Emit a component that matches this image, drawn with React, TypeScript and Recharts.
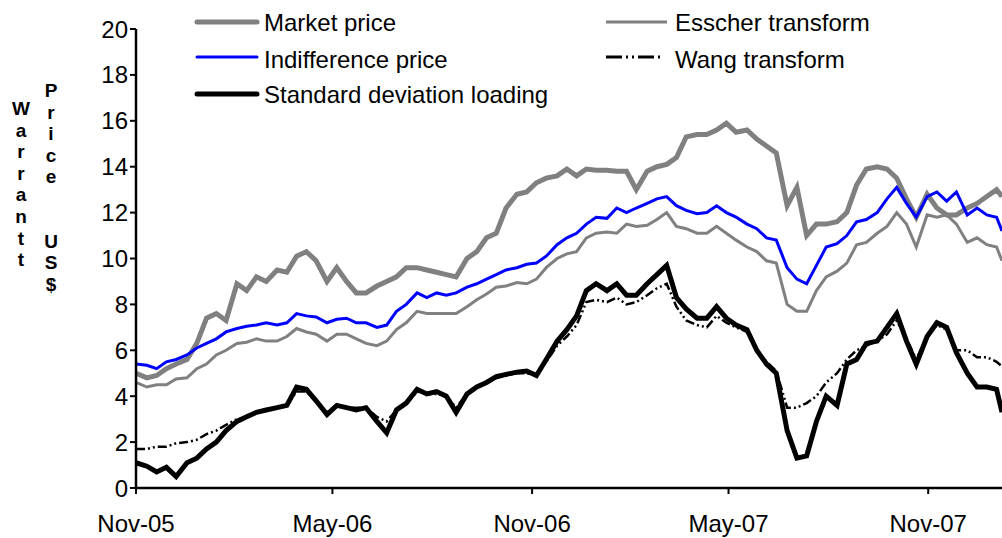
import { LineChart, Line, XAxis, YAxis } from "recharts"

// day offsets from 1 Nov 2005
const days = [
  0, 10, 19, 28, 37, 47, 56, 65, 74, 83, 93, 102, 111, 120, 130, 139, 148, 157, 166, 176, 185, 194,
  203, 212, 222, 231, 240, 249, 259, 268, 277, 286, 295, 305, 314, 323, 332, 341, 351, 360, 369, 378,
  388, 397, 406, 415, 424, 434, 443, 452, 461, 471, 480, 489, 498, 507, 517, 526, 535, 544, 553, 563,
  572, 581, 590, 600, 609, 618, 627, 636, 646, 655, 664, 673, 683, 692, 701, 710, 719, 729, 738, 747,
  756, 766, 775, 784, 793, 798,
]

const marketPrice = [
  5.0, 4.8, 4.9, 5.2, 5.4, 5.6, 6.3, 7.4, 7.6, 7.3, 8.9, 8.6, 9.2, 9.0, 9.5, 9.4, 10.1, 10.3, 9.9, 9.0, 9.6, 9.0,
  8.5, 8.5, 8.8, 9.0, 9.2, 9.6, 9.6, 9.5, 9.4, 9.3, 9.2, 10.0, 10.3, 10.9, 11.1, 12.2, 12.8, 12.9, 13.3, 13.5,
  13.6, 13.9, 13.6, 13.9, 13.85, 13.85, 13.8, 13.8, 13.0, 13.8, 14.0, 14.1, 14.4, 15.3, 15.4, 15.4, 15.6, 15.9, 15.5, 15.6,
  15.2, 14.9, 14.6, 12.3, 13.1, 11.0, 11.5, 11.5, 11.6, 12.0, 13.2, 13.9, 14.0, 13.9, 13.5, 12.6, 11.8, 12.8, 12.2, 11.9,
  11.9, 12.2, 12.4, 12.7, 13.0, 12.7,
]

const esscher = [
  4.6, 4.4, 4.5, 4.5, 4.75, 4.8, 5.2, 5.4, 5.8, 6.0, 6.3, 6.35, 6.5, 6.4, 6.4, 6.6, 6.95, 6.8, 6.7, 6.4, 6.7, 6.7,
  6.5, 6.3, 6.2, 6.4, 6.9, 7.2, 7.7, 7.6, 7.6, 7.6, 7.6, 7.9, 8.2, 8.45, 8.75, 8.8, 8.95, 8.9, 9.1, 9.6,
  10.0, 10.2, 10.3, 10.9, 11.1, 11.15, 11.1, 11.5, 11.4, 11.45, 11.7, 12.0, 11.4, 11.3, 11.1, 11.1, 11.4, 11.1, 10.8, 10.5,
  10.3, 9.9, 9.8, 8.0, 7.7, 7.7, 8.6, 9.2, 9.45, 9.8, 10.6, 10.7, 11.1, 11.4, 12.0, 11.5, 10.5, 11.9, 11.8, 11.9,
  11.5, 10.7, 10.9, 10.6, 10.5, 9.9,
]

const indifference = [
  5.4, 5.35, 5.2, 5.5, 5.6, 5.8, 6.1, 6.3, 6.5, 6.8, 6.95, 7.05, 7.1, 7.2, 7.1, 7.2, 7.6, 7.5, 7.45, 7.2, 7.35, 7.4,
  7.2, 7.2, 7.0, 7.1, 7.7, 8.0, 8.5, 8.3, 8.5, 8.4, 8.5, 8.75, 8.9, 9.1, 9.3, 9.5, 9.6, 9.75, 9.8, 10.1,
  10.6, 10.9, 11.1, 11.5, 11.8, 11.75, 12.2, 12.0, 12.2, 12.4, 12.6, 12.7, 12.3, 12.1, 11.95, 12.0, 12.3, 12.0, 11.8, 11.5,
  11.3, 10.9, 10.8, 9.6, 9.1, 8.9, 9.7, 10.5, 10.65, 11.0, 11.6, 11.7, 12.0, 12.6, 13.1, 12.4, 11.8, 12.7, 12.9, 12.5,
  12.9, 11.9, 12.2, 11.9, 11.8, 11.2,
]

const wang = [
  1.7, 1.7, 1.8, 1.8, 1.95, 2.0, 2.1, 2.35, 2.5, 2.75, 3.0, 3.1, 3.3, 3.4, 3.5, 3.6, 4.2, 4.2, 3.8, 3.3, 3.6, 3.5,
  3.5, 3.5, 3.1, 2.9, 3.4, 3.7, 4.2, 4.1, 4.1, 4.0, 3.5, 4.1, 4.4, 4.6, 4.8, 4.9, 5.0, 5.0, 4.9, 5.5,
  6.2, 6.6, 7.1, 8.1, 8.2, 8.1, 8.3, 8.0, 8.1, 8.4, 8.7, 8.9, 7.9, 7.3, 7.1, 7.0, 7.5, 7.2, 7.0, 6.8,
  6.0, 5.5, 5.1, 3.5, 3.5, 3.7, 4.0, 4.6, 5.0, 5.6, 6.0, 6.2, 6.4, 6.7, 7.3, 6.5, 5.6, 6.6, 7.1, 6.9,
  6.0, 6.0, 5.7, 5.7, 5.5, 5.3,
]

const sdLoading = [
  1.1, 0.95, 0.7, 0.9, 0.5, 1.1, 1.3, 1.7, 2.0, 2.5, 2.9, 3.1, 3.3, 3.4, 3.5, 3.6, 4.4, 4.3, 3.8, 3.2, 3.6, 3.5,
  3.4, 3.5, 2.9, 2.4, 3.4, 3.7, 4.3, 4.1, 4.2, 4.0, 3.3, 4.1, 4.4, 4.6, 4.85, 4.95, 5.05, 5.1, 4.9, 5.6,
  6.4, 6.9, 7.5, 8.6, 8.9, 8.6, 8.9, 8.4, 8.4, 8.9, 9.3, 9.7, 8.3, 7.8, 7.4, 7.4, 7.9, 7.4, 7.1, 6.9,
  6.0, 5.4, 5.0, 2.5, 1.3, 1.4, 2.9, 4.0, 3.6, 5.4, 5.6, 6.3, 6.4, 7.0, 7.6, 6.4, 5.4, 6.6, 7.2, 7.0,
  5.9, 5.0, 4.4, 4.4, 4.3, 3.3,
]

const tickDays = [0, 181, 365, 546, 730]
const tickLabels = ["Nov-05", "May-06", "Nov-06", "May-07", "Nov-07"]
const yTicks = [0, 2, 4, 6, 8, 10, 12, 14, 16, 18, 20]

const titleCol1 = ["W", "a", "r", "r", "a", "n", "t", "t"]
const titleCol2 = ["P", "r", "i", "c", "e", "", "", "U", "S", "$"]

const data = days.map((d, i) => ({
  day: d,
  market: marketPrice[i],
  esscher: esscher[i],
  indiff: indifference[i],
  wang: wang[i],
  sd: sdLoading[i],
}))

const FONT = "'Liberation Sans', Arial, sans-serif"
const tickStyle = { fill: "#000", fontSize: 24, fontFamily: FONT }

function Overlay() {
  return (
    <svg width={1002} height={538} style={{ position: "absolute", left: 0, top: 0, pointerEvents: "none" }}>
      {titleCol1.map((c, i) => (
        <text key={"a" + i} x={21} y={115 + i * 21.6} textAnchor="middle" fontSize={19} fontWeight="bold" fontFamily={FONT}>
          {c}
        </text>
      ))}
      {titleCol2.map((c, i) => (
        <text key={"b" + i} x={51} y={97 + i * 21.5} textAnchor="middle" fontSize={19} fontWeight="bold" fontFamily={FONT}>
          {c}
        </text>
      ))}
      <g fontFamily={FONT} fontSize={24} fill="#000">
        <line x1={197} y1={22} x2={257} y2={22} stroke="#808080" strokeWidth={5} strokeLinecap="round" />
        <text x={264} y={31}>Market price</text>
        <line x1={197} y1={57} x2={257} y2={57} stroke="#0000ff" strokeWidth={3} strokeLinecap="round" />
        <text x={264} y={68}>Indifference price</text>
        <line x1={197} y1={94} x2={257} y2={94} stroke="#000" strokeWidth={5} strokeLinecap="round" />
        <text x={264} y={103}>Standard deviation loading</text>
        <line x1={606} y1={22} x2={667} y2={22} stroke="#808080" strokeWidth={3} />
        <text x={675} y={31}>Esscher transform</text>
        <line x1={606} y1={57} x2={662} y2={57} stroke="#000" strokeWidth={3} strokeDasharray="16 4 2 4 2 4" />
        <text x={675} y={68}>Wang transform</text>
      </g>
    </svg>
  )
}

export default function App() {
  return (
    <div style={{ position: "absolute", left: 0, top: 0, width: 1002, height: 538, background: "#fff" }}>
      <LineChart width={1002} height={538} data={data} margin={{ top: 29, right: 0, bottom: 0, left: 0 }}>
        <XAxis
          dataKey="day"
          type="number"
          domain={[0, 798]}
          ticks={tickDays}
          tickFormatter={(v) => tickLabels[tickDays.indexOf(v)]}
          height={50}
          axisLine={{ stroke: "#000", strokeWidth: 2.5 }}
          tickLine={{ stroke: "#000", strokeWidth: 2 }}
          tickSize={6}
          tickMargin={21}
          tick={tickStyle}
          interval={0}
        />
        <YAxis
          domain={[0, 20]}
          ticks={yTicks}
          width={136}
          axisLine={{ stroke: "#000", strokeWidth: 2.5 }}
          tickLine={{ stroke: "#000", strokeWidth: 2 }}
          tickSize={6}
          tick={tickStyle}
          interval={0}
        />
        <Line type="linear" dataKey="market" stroke="#808080" strokeWidth={5} dot={false} isAnimationActive={false} />
        <Line type="linear" dataKey="esscher" stroke="#808080" strokeWidth={3} dot={false} isAnimationActive={false} />
        <Line type="linear" dataKey="indiff" stroke="#0000ff" strokeWidth={3} dot={false} isAnimationActive={false} />
        <Line type="linear" dataKey="wang" stroke="#000" strokeWidth={2.5} strokeDasharray="9 3 2 3 2 3" dot={false} isAnimationActive={false} />
        <Line type="linear" dataKey="sd" stroke="#000" strokeWidth={5} dot={false} isAnimationActive={false} />
      </LineChart>
      <Overlay />
    </div>
  )
}
